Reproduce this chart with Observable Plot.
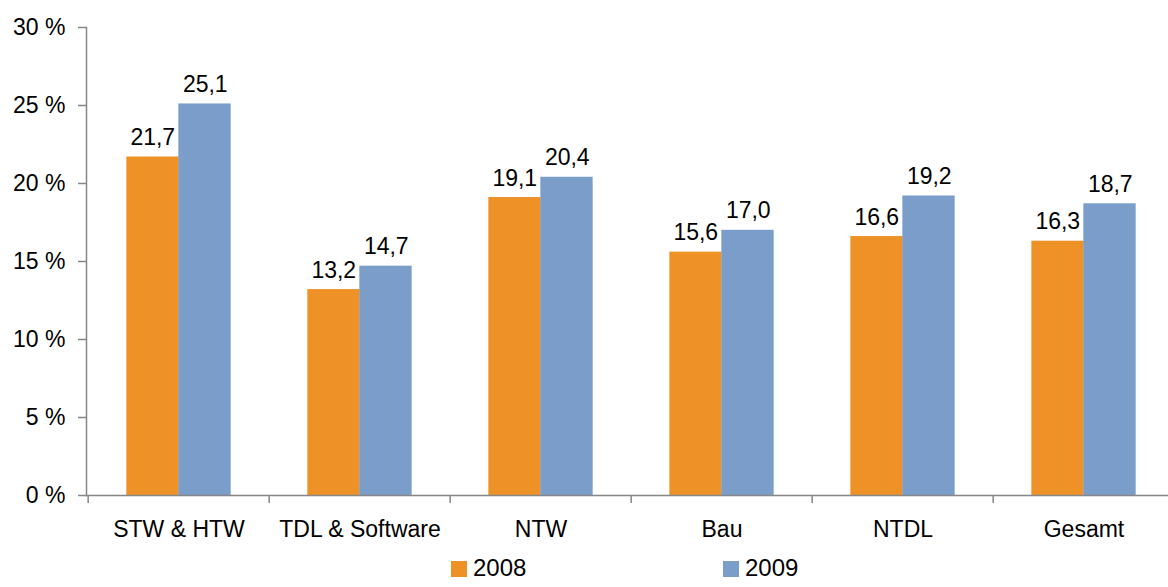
<!DOCTYPE html>
<html>
<head>
<meta charset="utf-8">
<script src="https://cdn.jsdelivr.net/npm/d3@7"></script>
<script src="https://cdn.jsdelivr.net/npm/@observablehq/plot@0.6"></script>
<style>
  body { margin: 0; background: #fff; font-family: "Liberation Sans", Arial, sans-serif; overflow: hidden; }
  #chart svg { display: block; }
  #legend { position: relative; height: 47px; width: 1168px; }
  .item { position: absolute; top: 16px; display: flex; align-items: center; font-size: 24px; color: #000; line-height: 24px; }
  .sw { width: 16px; height: 16px; margin-right: 6px; margin-top: 2px; }
</style>
</head>
<body>
<div id="chart"></div>
<div id="legend"></div>
<script>
const categories = ["STW & HTW", "TDL & Software", "NTW", "Bau", "NTDL", "Gesamt"];
const years = ["2008", "2009"];
const values2008 = [21.7, 13.2, 19.1, 15.6, 16.6, 16.3];
const values2009 = [25.1, 14.7, 20.4, 17.0, 19.2, 18.7];
const yTicks = [0, 5, 10, 15, 20, 25, 30];
const colors = ["#EE9228", "#7B9DC9"];

const d2008 = categories.map((c, i) => ({category: c, value: values2008[i]}));
const d2009 = categories.map((c, i) => ({category: c, value: values2009[i]}));

const W = 1168, H = 540;
const xLeft = 86, xRight = 1176;
const bw = (xRight - xLeft) / categories.length;
const half = 52.5;
const fmt = v => v.toFixed(1).replace(".", ",");
const FS = 23;
const gray = "#878787";

const chart = Plot.plot({
  width: W,
  height: H,
  marginTop: 27,
  marginBottom: 45,
  marginLeft: xLeft,
  marginRight: 0,
  style: {fontFamily: "'Liberation Sans', Arial, sans-serif", fontSize: FS + "px", color: "#000", background: "#fff", overflow: "visible"},
  x: {domain: categories, range: [xLeft, xRight], padding: 0, axis: null, label: null},
  y: {domain: [0, 30], axis: null, label: null},
  marks: [
    Plot.barY(d2008, {x: "category", y: "value", fill: colors[0], insetLeft: bw / 2 - half, insetRight: bw / 2 - 0.5}),
    Plot.barY(d2009, {x: "category", y: "value", fill: colors[1], insetLeft: bw / 2 - 0.5, insetRight: bw / 2 - half}),
    Plot.text(d2008, {x: "category", y: "value", text: d => fmt(d.value), dx: -half / 2, dy: -12, lineAnchor: "bottom", fontSize: FS, fill: "#000"}),
    Plot.text(d2009, {x: "category", y: "value", text: d => fmt(d.value), dx: half / 2, dy: -12, lineAnchor: "bottom", fontSize: FS, fill: "#000"}),
    Plot.frame({anchor: "left", stroke: gray, strokeWidth: 1.5}),
    Plot.ruleY([0], {stroke: gray, strokeWidth: 1.5}),
    Plot.ruleX(categories, {x: d => d, dx: -bw / 2, y1: 0, y2: 0, insetTop: 0, insetBottom: -8, stroke: gray, strokeWidth: 1.5}),
    Plot.axisY(yTicks, {tickSize: 8, tickPadding: 13, stroke: gray, strokeWidth: 1.5, tickFormat: d => d + " %", fontSize: FS, fill: "#000", label: null}),
    Plot.axisX({tickSize: 0, tickPadding: 25, fontSize: FS, fill: "#000", label: null})
  ]
});
document.getElementById("chart").appendChild(chart);

const legend = document.getElementById("legend");
const lx = [451, 723];
years.forEach((y, i) => {
  const it = document.createElement("div");
  it.className = "item";
  it.style.left = lx[i] + "px";
  it.innerHTML = `<div class="sw" style="background:${colors[i]}"></div><span>${y}</span>`;
  legend.appendChild(it);
});
</script>
</body>
</html>
